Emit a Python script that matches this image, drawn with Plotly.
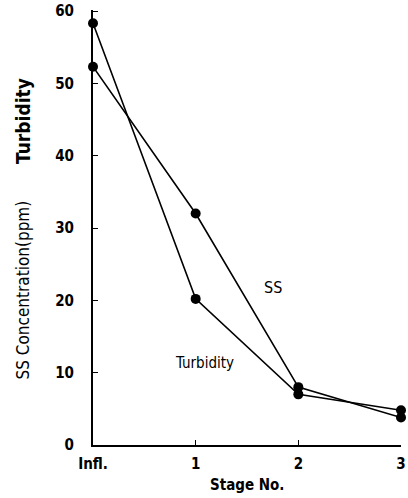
import plotly.graph_objects as go

stages = [0, 1, 2, 3]
stage_labels = ["Infl.", "1", "2", "3"]
ss_values = [52.3, 32.0, 8.0, 3.8]
turbidity_values = [58.3, 20.2, 7.0, 4.8]
y_ticks = [0, 10, 20, 30, 40, 50, 60]

FONT = "DejaVu Sans Condensed, Liberation Sans Narrow, Arial Narrow, sans-serif"

W, H = 408, 498
L, R, T, B = 93, 2, 9, 53


def px_to_paper(px, py):
    return (px - L) / (W - L - R), (H - B - py) / (H - T - B)


fig = go.Figure()
for name, vals in [("SS", ss_values), ("Turbidity", turbidity_values)]:
    fig.add_trace(go.Scatter(
        x=stages, y=vals, mode="lines+markers", name=name,
        line=dict(color="black", width=1.6),
        marker=dict(color="black", size=10),
        cliponaxis=False, showlegend=False))

fig.update_layout(
    width=W, height=H,
    margin=dict(l=L, r=R, t=T, b=B),
    paper_bgcolor="white", plot_bgcolor="white",
    font=dict(family=FONT, color="black", size=15),
    xaxis=dict(range=[0, 3.0], tickvals=stages, ticktext=stage_labels,
               showgrid=False, zeroline=False, showline=True,
               linecolor="black", linewidth=2, ticks="inside", ticklen=5,
               tickcolor="black", tickwidth=1,
               tickfont=dict(family=FONT, size=15, weight="bold"),
               ticklabelstandoff=4, ticklabeloverflow="allow"),
    yaxis=dict(range=[0, 60.14], tickvals=y_ticks,
               showgrid=False, zeroline=False, showline=True,
               linecolor="black", linewidth=2, ticks="inside", ticklen=5,
               tickcolor="black", tickwidth=1,
               tickfont=dict(family=FONT, size=15, weight="bold"),
               ticklabelstandoff=14),
)


def paper_text(text, px, py, size, angle=0):
    x, y = px_to_paper(px, py)
    fig.add_annotation(text=text, x=x, y=y, xref="paper", yref="paper",
                       xanchor="center", yanchor="middle", textangle=angle,
                       showarrow=False, font=dict(family=FONT, size=size, color="black"))


paper_text("<b>Turbidity</b>", 22, 120, 19, -90)
paper_text("SS Concentration(ppm)", 22, 290, 17, -90)
paper_text("<b>Stage No.</b>", 250, 485, 15)

fig.add_annotation(text="SS", x=1.75, y=21.8, xref="x", yref="y",
                   xanchor="center", yanchor="middle", showarrow=False,
                   font=dict(family=FONT, size=16, color="black"))
fig.add_annotation(text="Turbidity", x=1.09, y=11.3, xref="x", yref="y",
                   xanchor="center", yanchor="middle", showarrow=False,
                   font=dict(family=FONT, size=15, color="black"))

fig.write_html("out.html")
